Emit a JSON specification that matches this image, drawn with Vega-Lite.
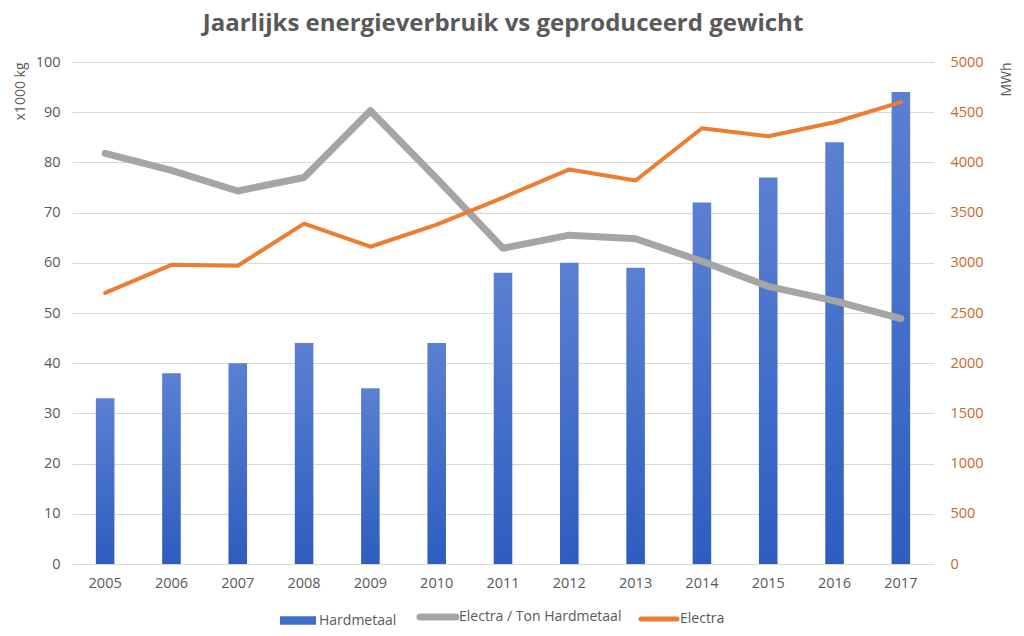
{
  "$schema": "https://vega.github.io/schema/vega-lite/v6.json",
  "width": 1024,
  "height": 636,
  "autosize": {"type": "fit", "contains": "padding"},
  "padding": {"left": 13, "right": 10, "top": 12, "bottom": 46},
  "background": "white",
  "title": {
    "text": "Jaarlijks energieverbruik vs geproduceerd gewicht",
    "font": "Open Sans",
    "fontSize": 24,
    "fontWeight": "bold",
    "color": "#595959",
    "offset": 18
  },
  "config": {
    "view": {"stroke": null},
    "font": "Open Sans",
    "axis": {
      "labelFont": "Open Sans",
      "labelFontSize": 14.5,
      "labelColor": "#595959",
      "titleFont": "Open Sans",
      "titleFontSize": 14,
      "titleFontWeight": "normal",
      "titleColor": "#595959",
      "ticks": false,
      "domain": false
    },
    "legend": {
      "labelFont": "Open Sans",
      "labelFontSize": 14,
      "labelColor": "#595959",
      "labelLimit": 300
    }
  },
  "data": {
    "values": [
      {"year": "2005", "hardmetaal": 33, "electra_per_ton": 81.8, "electra": 2700},
      {"year": "2006", "hardmetaal": 38, "electra_per_ton": 78.4, "electra": 2980},
      {"year": "2007", "hardmetaal": 40, "electra_per_ton": 74.3, "electra": 2970},
      {"year": "2008", "hardmetaal": 44, "electra_per_ton": 77.0, "electra": 3390},
      {"year": "2009", "hardmetaal": 35, "electra_per_ton": 90.3, "electra": 3160},
      {"year": "2010", "hardmetaal": 44, "electra_per_ton": 76.8, "electra": 3380},
      {"year": "2011", "hardmetaal": 58, "electra_per_ton": 62.9, "electra": 3650},
      {"year": "2012", "hardmetaal": 60, "electra_per_ton": 65.5, "electra": 3930},
      {"year": "2013", "hardmetaal": 59, "electra_per_ton": 64.8, "electra": 3820},
      {"year": "2014", "hardmetaal": 72, "electra_per_ton": 60.3, "electra": 4340},
      {"year": "2015", "hardmetaal": 77, "electra_per_ton": 55.3, "electra": 4260},
      {"year": "2016", "hardmetaal": 84, "electra_per_ton": 52.4, "electra": 4400},
      {"year": "2017", "hardmetaal": 94, "electra_per_ton": 48.9, "electra": 4600}
    ]
  },
  "encoding": {
    "x": {
      "field": "year",
      "type": "ordinal",
      "scale": {"paddingInner": 0.72, "paddingOuter": 0.36},
      "axis": {"title": null, "labelAngle": 0, "labelPadding": 12, "grid": false}
    }
  },
  "layer": [
    {
      "layer": [
        {
          "mark": {
            "type": "bar",
            "fill": {
              "gradient": "linear",
              "x1": 0, "y1": 0, "x2": 0, "y2": 1,
              "stops": [
                {"offset": 0, "color": "#5A80D2"},
                {"offset": 1, "color": "#2E5DC0"}
              ]
            }
          },
          "encoding": {
            "y": {
              "field": "hardmetaal",
              "type": "quantitative",
              "scale": {"domain": [0, 100]},
              "axis": {
                "title": "x1000 kg",
                "titleAnchor": "end",
                "titleAngle": -90,
                "titlePadding": 8,
                "labelPadding": 12,
                "values": [0, 10, 20, 30, 40, 50, 60, 70, 80, 90, 100],
                "grid": true,
                "gridColor": "#D9D9D9",
                "gridWidth": 1
              }
            }
          }
        },
        {
          "mark": {"type": "line", "strokeWidth": 7, "strokeJoin": "round", "strokeCap": "round"},
          "encoding": {
            "y": {"field": "electra_per_ton", "type": "quantitative"},
            "color": {
              "datum": "Electra / Ton Hardmetaal",
              "type": "nominal",
              "scale": {
                "domain": ["Hardmetaal", "Electra / Ton Hardmetaal", "Electra"],
                "range": ["#3F6DC8", "#A5A5A5", "#ED7D31"]
              },
              "legend": {
                "title": null,
                "orient": "none",
                "direction": "horizontal",
                "legendX": 219,
                "legendY": 548,
                "columnPadding": 8,
                "labelOffset": 14,
                "symbolSize": 1300,
                "encode": {
                  "symbols": {
                    "update": {
                      "shape": {"signal": "datum.value === 'Hardmetaal' ? 'M-1,-0.24H1V0.24H-1Z' : 'M-1,0H1'"},
                      "fill": {"signal": "datum.value === 'Hardmetaal' ? '#3F6DC8' : 'transparent'"},
                      "stroke": {"signal": "datum.value === 'Hardmetaal' ? 'transparent' : (datum.value === 'Electra' ? '#ED7D31' : '#A5A5A5')"},
                      "strokeWidth": {"signal": "datum.value === 'Hardmetaal' ? 0 : (datum.value === 'Electra' ? 5 : 7)"},
                      "strokeCap": {"value": "round"},
                      "opacity": {"value": 1}
                    }
                  }
                }
              }
            }
          }
        }
      ]
    },
    {
      "mark": {"type": "line", "strokeWidth": 4, "strokeJoin": "round", "strokeCap": "round"},
      "encoding": {
        "y": {
          "field": "electra",
          "type": "quantitative",
          "scale": {"domain": [0, 5000]},
          "axis": {
            "orient": "right",
            "title": "MWh",
            "titleAnchor": "end",
            "titleAngle": -90,
            "titlePadding": 30,
            "labelPadding": 16,
            "labelColor": "#C8692B",
            "format": "d",
            "values": [0, 500, 1000, 1500, 2000, 2500, 3000, 3500, 4000, 4500, 5000],
            "grid": false
          }
        },
        "color": {"datum": "Electra", "type": "nominal"}
      }
    }
  ],
  "resolve": {"scale": {"y": "independent"}}
}
